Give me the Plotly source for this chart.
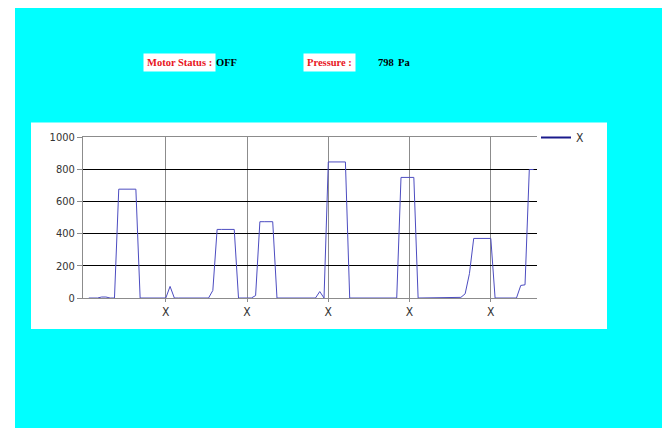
import plotly.graph_objects as go

# ---- data ----
point_index = list(range(105))
pressure_values = [
    0, 0, 0, 6, 6, 0, 0, 676, 676, 676,
    676, 676, 0, 0, 0, 0, 0, 0, 0, 72,
    0, 0, 0, 0, 0, 0, 0, 0, 0, 47,
    426, 426, 426, 426, 426, 0, 0, 0, 0, 15,
    474, 474, 474, 474, 0, 0, 0, 0, 0, 0,
    0, 0, 0, 0, 40, 0, 845, 845, 845, 845,
    845, 0, 0, 0, 0, 0, 0, 0, 0, 0,
    0, 0, 0, 749, 749, 749, 749, 0, 0, 0,
    0, 0, 0, 0, 0, 0, 0, 4, 26, 151,
    370, 370, 370, 370, 370, 0, 0, 0, 0, 0,
    0, 78, 82, 798, 798,
]
x_tick_positions = [18, 37, 56, 75, 94]
x_tick_labels = ["X", "X", "X", "X", "X"]
y_tick_values = [0, 200, 400, 600, 800, 1000]
series_name = "X"
motor_status = "OFF"
pressure_reading = "798"
pressure_unit = "Pa"

# ---- layout geometry (page pixels; body margin removed below) ----
W, H = 662, 428
PLOT_L, PLOT_R, PLOT_T, PLOT_B = 83, 537, 137, 298
ML = PLOT_L
MT = PLOT_T
MR = W - PLOT_R
MB = H - PLOT_B
PW = PLOT_R - PLOT_L
PH = PLOT_B - PLOT_T


def px2x(px):
    return (px - PLOT_L) / PW


def py2y(py):
    return (PLOT_B - py) / PH


narrow = ("Liberation Sans Narrow, Arial Narrow, DejaVu Sans Condensed, "
          "Liberation Sans, Arial, sans-serif")
serif = "Liberation Serif, Times New Roman, serif"

fig = go.Figure()
fig.add_trace(go.Scatter(
    x=point_index, y=pressure_values, mode="lines",
    line=dict(color="#4c4cc0", width=1), showlegend=False,
    hoverinfo="skip",
))
fig.add_trace(go.Scatter(
    x=[None], y=[None], mode="lines", name=series_name,
    line=dict(color="#1a1a8c", width=2), showlegend=True,
))

shapes = [
    dict(type="rect", xref="paper", yref="paper", layer="below",
         x0=px2x(15), x1=px2x(662), y0=py2y(8), y1=py2y(428),
         fillcolor="#00ffff", line=dict(width=0)),
    dict(type="rect", xref="paper", yref="paper", layer="below",
         x0=px2x(31), x1=px2x(607), y0=py2y(122.5), y1=py2y(329),
         fillcolor="#ffffff", line=dict(width=0)),
]

annotations = [
    dict(text="<b>Motor Status :</b>", x=px2x(179), y=py2y(62.7),
         font=dict(family=serif, size=10.5, color="#e8141c"), bgcolor="#ffffff",
         borderpad=3),
    dict(text="<b>%s</b>" % motor_status, x=px2x(226.5), y=py2y(62.7),
         font=dict(family=serif, size=10.5, color="#000000")),
    dict(text="<b>Pressure :</b>", x=px2x(329), y=py2y(62.7),
         font=dict(family=serif, size=10.5, color="#e8141c"), bgcolor="#ffffff",
         borderpad=3),
    dict(text="<b>%s</b>" % pressure_reading, x=px2x(386), y=py2y(62.7),
         font=dict(family=serif, size=10.5, color="#000000")),
    dict(text="<b>%s</b>" % pressure_unit, x=px2x(404), y=py2y(62.7),
         font=dict(family=serif, size=10.5, color="#000000")),
]
for a in annotations:
    a.update(xref="paper", yref="paper", showarrow=False,
             xanchor="center", yanchor="middle")

fig.update_layout(
    width=W, height=H,
    margin=dict(l=ML, r=MR, t=MT, b=MB, pad=0),
    paper_bgcolor="#ffffff",
    plot_bgcolor="rgba(0,0,0,0)",
    shapes=shapes,
    annotations=annotations,
    showlegend=True,
    legend=dict(x=px2x(536), y=py2y(137.5), xanchor="left", yanchor="middle",
                bgcolor="rgba(0,0,0,0)", borderwidth=0,
                font=dict(family=narrow, size=12, color="#333333"),
                itemwidth=30),
    xaxis=dict(
        range=[-1.36, 104.8], tickmode="array",
        tickvals=x_tick_positions, ticktext=x_tick_labels,
        showgrid=True, gridcolor="#8c8c8c", gridwidth=1,
        zeroline=False, showline=True, linecolor="#8c8c8c", linewidth=1,
        mirror=True, ticks="outside", ticklen=3, tickcolor="#8c8c8c",
        tickfont=dict(family=narrow, size=12, color="#333333"),
    ),
    yaxis=dict(
        range=[0, 1000], tickmode="array", tickvals=y_tick_values,
        showgrid=True, gridcolor="#000000", gridwidth=1,
        zeroline=False, showline=True, linecolor="#8c8c8c", linewidth=1,
        ticks="outside", ticklen=5, tickcolor="#8c8c8c",
        tickfont=dict(family=narrow, size=11, color="#333333"),
    ),
)

fig.write_html(
    "out.html",
    config={"displayModeBar": False},
    post_script="document.body.style.margin='0';document.body.style.overflow='hidden';",
)
